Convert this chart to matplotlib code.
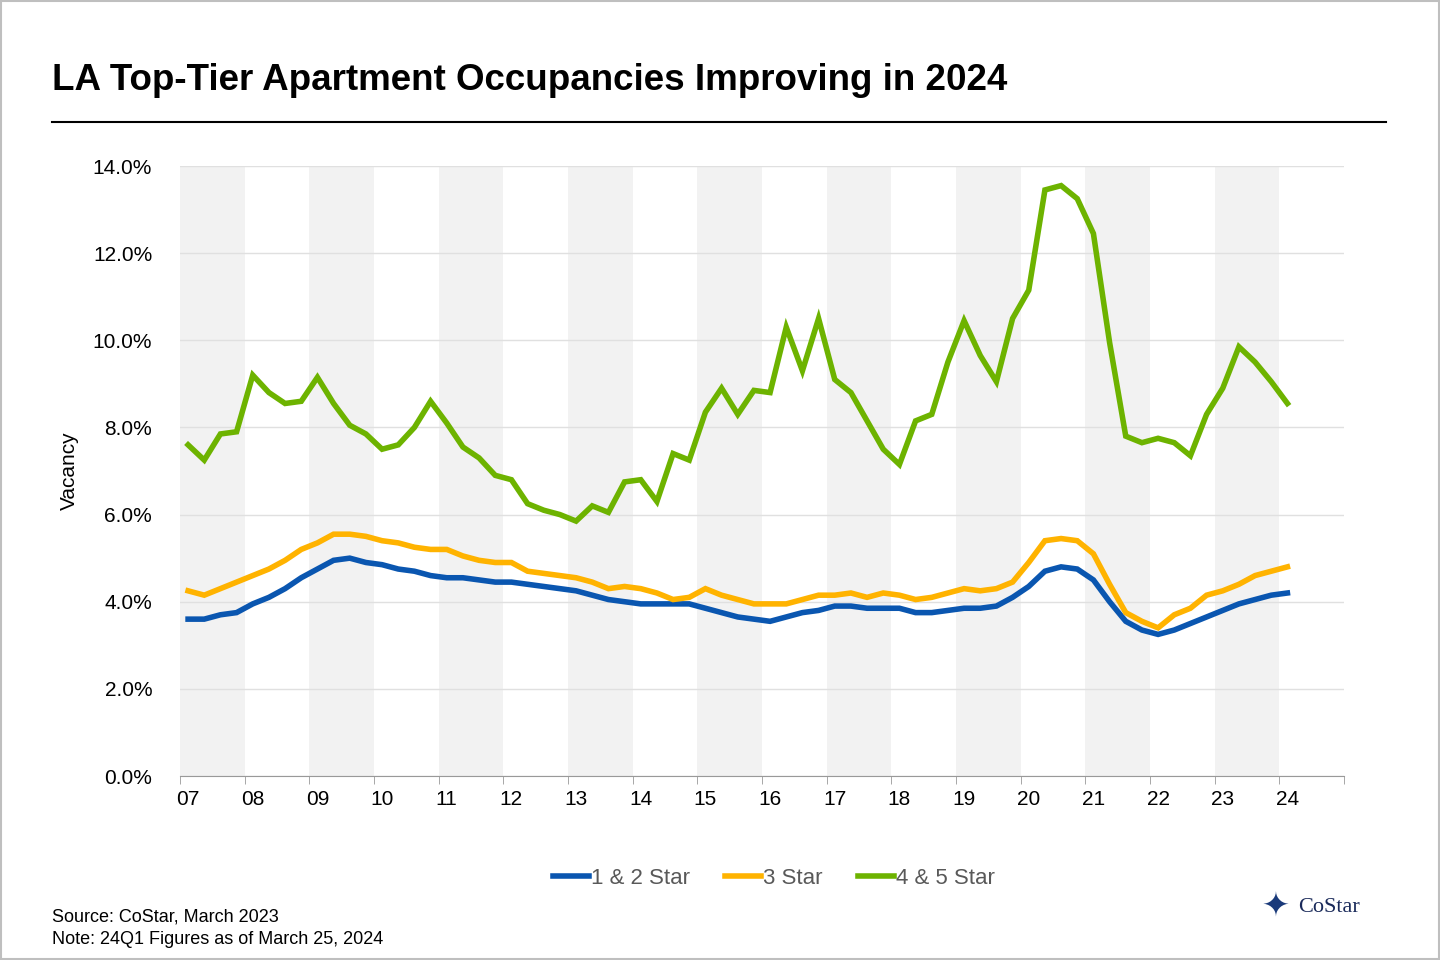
import numpy as np
import matplotlib.pyplot as plt
from matplotlib.lines import Line2D

plt.rcParams['font.family'] = ['Liberation Sans', 'DejaVu Sans']

years = ['07', '08', '09', '10', '11', '12', '13', '14', '15', '16', '17', '18',
         '19', '20', '21', '22', '23', '24']

star_12 = [3.6, 3.6, 3.7, 3.75, 3.95, 4.1, 4.3, 4.55, 4.75, 4.95,
           5.0, 4.9, 4.85, 4.75, 4.7, 4.6, 4.55, 4.55, 4.5, 4.45,
           4.45, 4.4, 4.35, 4.3, 4.25, 4.15, 4.05, 4.0, 3.95, 3.95,
           3.95, 3.95, 3.85, 3.75, 3.65, 3.6, 3.55, 3.65, 3.75, 3.8,
           3.9, 3.9, 3.85, 3.85, 3.85, 3.75, 3.75, 3.8, 3.85, 3.85,
           3.9, 4.1, 4.35, 4.7, 4.8, 4.75, 4.5, 4.0, 3.55, 3.35,
           3.25, 3.35, 3.5, 3.65, 3.8, 3.95, 4.05, 4.15, 4.2]
star_3 = [4.25, 4.15, 4.3, 4.45, 4.6, 4.75, 4.95, 5.2, 5.35, 5.55,
          5.55, 5.5, 5.4, 5.35, 5.25, 5.2, 5.2, 5.05, 4.95, 4.9,
          4.9, 4.7, 4.65, 4.6, 4.55, 4.45, 4.3, 4.35, 4.3, 4.2,
          4.05, 4.1, 4.3, 4.15, 4.05, 3.95, 3.95, 3.95, 4.05, 4.15,
          4.15, 4.2, 4.1, 4.2, 4.15, 4.05, 4.1, 4.2, 4.3, 4.25,
          4.3, 4.45, 4.9, 5.4, 5.45, 5.4, 5.1, 4.4, 3.75, 3.55,
          3.4, 3.7, 3.85, 4.15, 4.25, 4.4, 4.6, 4.7, 4.8]
star_45 = [7.6, 7.25, 7.85, 7.9, 9.2, 8.8, 8.55, 8.6, 9.15, 8.55,
           8.05, 7.85, 7.5, 7.6, 8.0, 8.6, 8.1, 7.55, 7.3, 6.9,
           6.8, 6.25, 6.1, 6.0, 5.85, 6.2, 6.05, 6.75, 6.8, 6.3,
           7.4, 7.25, 8.35, 8.9, 8.3, 8.85, 8.8, 10.3, 9.3, 10.5,
           9.1, 8.8, 8.15, 7.5, 7.15, 8.15, 8.3, 9.5, 10.45, 9.65,
           9.05, 10.5, 11.15, 13.45, 13.55, 13.25, 12.45, 9.95, 7.8, 7.65,
           7.75, 7.65, 7.35, 8.3, 8.9, 9.85, 9.5, 9.05, 8.55]

fig = plt.figure(figsize=(14.4, 9.6), dpi=100)
ax = fig.add_axes([180 / 1440, 1 - 776 / 960, 1164 / 1440, 610 / 960])

x = np.arange(len(star_12)) / 4 + 0.125
for i in range(0, len(years), 2):
    ax.axvspan(i, i + 1, color='#f2f2f2', zorder=0, lw=0)
ax.grid(axis='y', color='#e0e0e0', lw=1, zorder=0.5)

ax.plot(x, star_12, color='#0a56b0', lw=4, zorder=3, solid_joinstyle='miter')
ax.plot(x, star_3, color='#ffb300', lw=4, zorder=3, solid_joinstyle='miter')
ax.plot(x, star_45, color='#6db300', lw=4, zorder=3, solid_joinstyle='miter')

ax.set_xlim(0, 18)
ax.set_ylim(0, 14)
ax.set_yticks(np.arange(0, 15, 2))
ax.set_yticklabels([f'{v:.1f}%' for v in np.arange(0, 15, 2)], fontsize=15)
ax.set_xticks(np.arange(len(years)) + 0.125)
ax.set_xticklabels(years, fontsize=15)
ax.set_xticks(np.arange(0, 19), minor=True)
ax.tick_params(axis='x', which='major', length=0, pad=10)
ax.tick_params(axis='x', which='minor', length=6, color='#999999')
ax.tick_params(axis='y', length=0, pad=20)
for s in ['top', 'right', 'left']:
    ax.spines[s].set_visible(False)
ax.spines['bottom'].set_color('#999999')
ax.set_ylabel('Vacancy', fontsize=15, labelpad=10)

fig.text(52 / 1440, 1 - 80 / 960, 'LA Top-Tier Apartment Occupancies Improving in 2024',
         fontsize=26.5, fontweight='bold', va='center')
fig.add_artist(Line2D([52 / 1440, 1386 / 1440], [1 - 122 / 960] * 2, color='black', lw=1.5))
fig.add_artist(plt.Rectangle((0.001, 0.001), 0.998, 0.998, fill=False, ec='#bfbfbf', lw=1.5))

handles = [Line2D([], [], color=c, lw=4) for c in ['#0a56b0', '#ffb300', '#6db300']]
fig.legend(handles, ['1 & 2 Star', '3 Star', '4 & 5 Star'], loc='center',
           bbox_to_anchor=(774 / 1440, 1 - 878 / 960), ncol=3, frameon=False,
           fontsize=16, handlelength=1.6, handletextpad=0.1, columnspacing=1.6,
           labelcolor='#595959')

fig.text(52 / 1440, 1 - 917 / 960, 'Source: CoStar, March 2023', fontsize=13, va='center')
fig.text(52 / 1440, 1 - 940 / 960, 'Note: 24Q1 Figures as of March 25, 2024', fontsize=13, va='center')
fig.text(1298 / 1440, 1 - 908 / 960, 'CoStar', fontsize=16, va='center',
         family='Liberation Serif', color='#1a2a5a')
fig.text(1276 / 1440, 1 - 908 / 960, '✦', fontsize=24, va='center', ha='center', color='#1a3a7a')

fig.savefig('out.png', dpi=100)
